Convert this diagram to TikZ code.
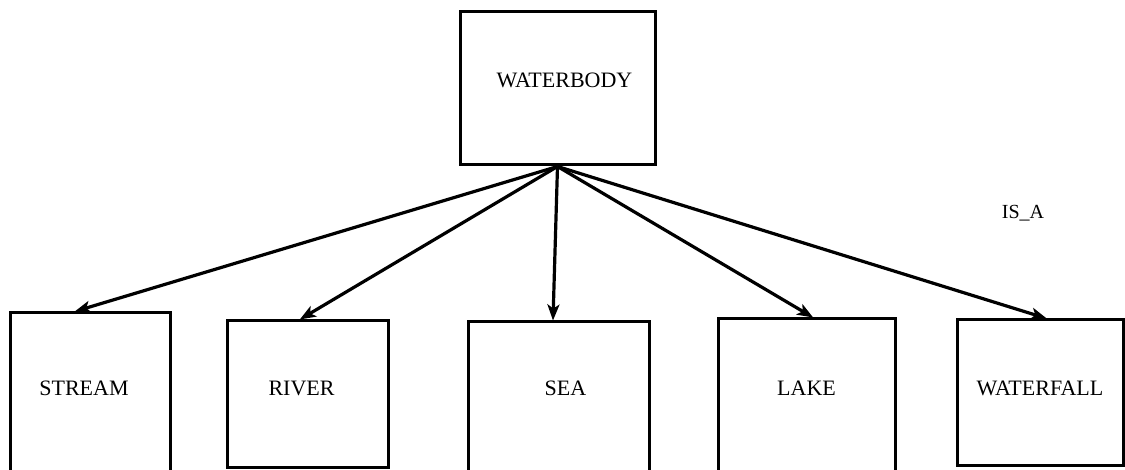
\documentclass[tikz,border=0pt]{standalone}
\usepackage{fontspec}
\setmainfont{Liberation Serif}
\usetikzlibrary{arrows.meta,calc}
\begin{document}
\begin{tikzpicture}[x=1pt,y=-1pt,
  classbox/.style={draw, line width=3pt, rectangle, inner sep=0pt,
    font=\fontsize{22}{26}\selectfont},
  isa/.style={line width=3.2pt,
    -{Stealth[length=16pt,width=12pt,inset=4pt]}}]
  \useasboundingbox (0,0) rectangle (1125,470);
  \clip (0,0) rectangle (1125,470);

  % parent class
  \node[classbox, minimum width=195pt, minimum height=153pt,
        text height=0pt, text depth=2.6pt] (wb) at (557.5,88.5) {\hspace*{14pt}WATERBODY};

  % subclasses (three of them run past the lower edge)
  \node[classbox, minimum width=160pt, minimum height=177pt,
        text height=0pt, text depth=12.6pt] (stream) at (90,401.5) {STREAM\hspace*{12pt}};
  \node[classbox, minimum width=161pt, minimum height=146pt,
        text height=2.4pt, text depth=0pt] (river) at (307.5,394) {RIVER\hspace*{12pt}};
  \node[classbox, minimum width=181pt, minimum height=168pt,
        text height=0pt, text depth=21.6pt] (sea) at (558.5,406) {\hspace*{14pt}SEA};
  \node[classbox, minimum width=177pt, minimum height=171pt,
        text height=0pt, text depth=18.6pt] (lake) at (806.5,404.5) {LAKE};
  \node[classbox, minimum width=166pt, minimum height=145pt,
        text height=5.4pt, text depth=0pt] (waterfall) at (1040,392.5) {WATERFALL};

  \node[font=\fontsize{20}{24}\selectfont] (isalabel) at (1023,213) {IS\_A};

  % IS_A links
  \draw[isa] (wb.south) -- ($(stream.north west)!0.406!(stream.north east)$);
  \draw[isa] (wb.south) -- ($(river.north west)!0.453!(river.north east)$);
  \draw[isa] (wb.south) -- ($(sea.north west)!0.47!(sea.north east)$);
  \draw[isa] (wb.south) -- ($(lake.north west)!0.537!(lake.north east)$);
  \draw[isa] (wb.south) -- ($(waterfall.north west)!0.54!(waterfall.north east)$);
\end{tikzpicture}
\end{document}
